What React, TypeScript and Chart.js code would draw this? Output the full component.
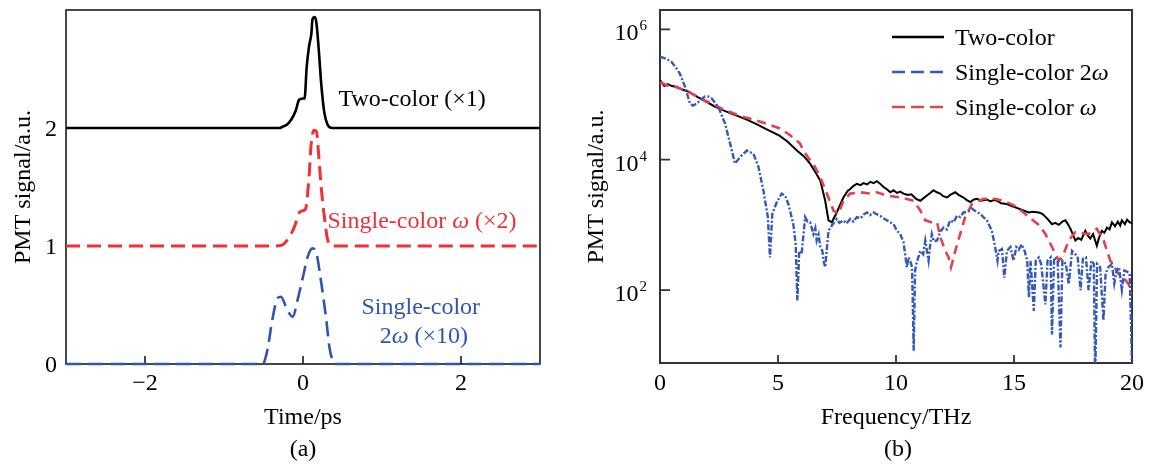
import { useEffect, useRef } from 'react';
import { Chart, registerables } from 'chart.js';

Chart.register(...registerables);

const SERIF = '"Liberation Serif", "Times New Roman", serif';
const W = 1151;
const H = 468;

const BLACK = '#000000';
const RED = '#ec3236';
const BLUE = '#2f55b2';
const RED_B = '#e2424f';
const BLUE_B = '#3458bb';

// ---------- (a) time-domain PMT traces (offset for display) ----------
const timeTicks = [-2, 0, 2];
const timeTickLabels = ['\u22122', '0', '2'];
const offsetTicks = [0, 1, 2];

const twoColorTime = [-3, -0.5, -0.3, -0.26, -0.2, -0.15, -0.09, -0.05, 0.0, 0.02, 0.047, 0.076, 0.106, 0.12, 0.15, 0.17, 0.2, 0.23, 0.27, 0.31, 0.37, 3];
const twoColorTrace = [2, 2, 2.0, 2.01, 2.03, 2.07, 2.15, 2.24, 2.25, 2.25, 2.52, 2.69, 2.8, 2.92, 2.94, 2.89, 2.66, 2.38, 2.13, 2.03, 2.0, 2];

const omegaTime = [-3, -0.37, -0.26, -0.18, -0.11, -0.05, 0.0, 0.03, 0.08, 0.1, 0.14, 0.17, 0.2, 0.23, 0.27, 0.31, 0.37, 3];
const omegaTrace = [1, 1, 1.01, 1.07, 1.16, 1.28, 1.3, 1.31, 1.62, 1.84, 1.98, 1.97, 1.76, 1.5, 1.25, 1.06, 1.0, 1];

const twoOmegaTime = [-3, -0.51, -0.45, -0.39, -0.32, -0.28, -0.2, -0.13, -0.07, 0.0, 0.06, 0.12, 0.17, 0.22, 0.29, 0.34, 0.41, 3];
const twoOmegaTrace = [0, 0, 0.12, 0.37, 0.56, 0.57, 0.46, 0.4, 0.54, 0.74, 0.91, 0.98, 0.94, 0.74, 0.4, 0.12, 0, 0];

// ---------- (b) spectra, stored as log10 of PMT signal ----------
const freqTicks = [0, 5, 10, 15, 20];
const spectrumDecades = [2, 4, 6];

const twoColorFreq = [0, 0.1, 0.18, 0.33, 0.5, 0.68, 1.0, 1.24, 1.6, 1.95, 2.3, 2.66, 3.0, 3.36, 3.7, 4.07, 4.5, 5.06, 5.4, 5.8, 6.1, 6.36, 6.6, 6.79, 7.0, 7.14, 7.28, 7.49, 7.77, 7.95, 8.06, 8.2, 8.34, 8.5, 8.62, 8.78, 8.91, 9.05, 9.19, 9.3, 9.47, 9.6, 9.76, 9.9, 10.04, 10.18, 10.32, 10.5, 10.65, 10.85, 11.03, 11.17, 11.31, 11.45, 11.59, 11.73, 11.87, 12.0, 12.16, 12.3, 12.51, 12.65, 12.86, 13.0, 13.15, 13.3, 13.43, 13.6, 13.85, 14.0, 14.14, 14.28, 14.45, 14.7, 14.9, 15.05, 15.2, 15.4, 15.63, 15.8, 16.05, 16.2, 16.4, 16.61, 16.75, 16.9, 17.05, 17.18, 17.3, 17.39, 17.5, 17.6, 17.72, 17.85, 18.02, 18.12, 18.23, 18.35, 18.51, 18.6, 18.72, 18.83, 18.94, 19.05, 19.15, 19.28, 19.4, 19.5, 19.57, 19.7, 19.79, 19.9, 20.0];
const twoColorLog = [5.22, 5.17, 5.13, 5.16, 5.13, 5.12, 5.07, 5.04, 4.96, 4.89, 4.82, 4.76, 4.71, 4.66, 4.61, 4.55, 4.47, 4.37, 4.28, 4.14, 4.05, 3.94, 3.8, 3.68, 3.37, 3.07, 3.04, 3.19, 3.42, 3.52, 3.55, 3.6, 3.63, 3.61, 3.64, 3.62, 3.66, 3.64, 3.67, 3.64, 3.58, 3.55, 3.5, 3.53, 3.49, 3.51, 3.48, 3.46, 3.47, 3.4, 3.37, 3.41, 3.45, 3.49, 3.53, 3.5, 3.48, 3.44, 3.42, 3.46, 3.5, 3.46, 3.42, 3.38, 3.35, 3.39, 3.4, 3.37, 3.39, 3.36, 3.38, 3.37, 3.33, 3.32, 3.29, 3.27, 3.25, 3.22, 3.19, 3.2, 3.19, 3.17, 3.1, 3.01, 3.03, 3.0, 3.05, 3.07, 3.0, 2.94, 2.85, 2.76, 2.8, 2.77, 2.91, 2.84, 2.79, 2.86, 2.68, 2.8, 2.91, 2.88, 2.96, 2.93, 3.04, 2.98, 3.05, 2.99, 3.07, 3.01, 3.08, 3.04, 3.03];

const omegaFreq = [0, 0.3, 0.7, 1.2, 1.95, 2.7, 3.4, 4.1, 4.6, 5.08, 5.5, 5.93, 6.08, 6.3, 6.5, 6.79, 7.07, 7.35, 7.56, 7.77, 8.06, 8.48, 8.91, 9.19, 9.61, 10.18, 10.75, 11.03, 11.24, 11.5, 11.74, 11.88, 12.09, 12.23, 12.33, 12.51, 12.72, 12.93, 13.22, 13.71, 14.14, 14.56, 14.98, 15.2, 15.63, 16.05, 16.33, 16.61, 16.9, 17.1, 17.32, 17.6, 18.16, 18.51, 18.8, 19.08, 19.43, 19.64, 19.86, 20.0];
const omegaLog = [5.19, 5.14, 5.11, 5.04, 4.9, 4.77, 4.67, 4.6, 4.54, 4.48, 4.38, 4.25, 4.14, 4.02, 3.94, 3.73, 3.48, 3.22, 3.17, 3.37, 3.48, 3.5, 3.48, 3.5, 3.45, 3.42, 3.37, 3.22, 3.07, 3.04, 3.04, 2.81, 2.6, 2.5, 2.35, 2.6, 2.86, 3.12, 3.32, 3.4, 3.4, 3.37, 3.3, 3.25, 3.12, 3.0, 2.86, 2.66, 2.45, 2.55, 2.76, 2.89, 2.86, 2.94, 2.76, 2.45, 2.25, 2.19, 2.09, 1.94];

const twoOmegaFreq = [0, 0.25, 0.49, 0.7, 0.84, 1.06, 1.27, 1.4, 1.55, 1.75, 1.91, 2.05, 2.19, 2.47, 2.76, 2.97, 3.18, 3.39, 3.68, 3.96, 4.17, 4.38, 4.57, 4.66, 4.76, 4.95, 5.16, 5.3, 5.44, 5.65, 5.75, 5.82, 5.9, 6.0, 6.15, 6.25, 6.36, 6.5, 6.58, 6.64, 6.72, 6.79, 6.88, 6.93, 7.0, 7.14, 7.28, 7.4, 7.49, 7.6, 7.77, 7.9, 8.06, 8.2, 8.34, 8.5, 8.63, 8.77, 8.9, 9.05, 9.2, 9.33, 9.47, 9.61, 9.75, 9.9, 10.04, 10.18, 10.32, 10.46, 10.53, 10.6, 10.68, 10.75, 10.81, 10.86, 11.03, 11.15, 11.24, 11.38, 11.45, 11.52, 11.6, 11.74, 11.88, 12.02, 12.15, 12.3, 12.45, 12.58, 12.72, 12.86, 13.05, 13.22, 13.4, 13.57, 13.7, 13.85, 14.06, 14.2, 14.3, 14.35, 14.49, 14.59, 14.7, 14.85, 14.98, 15.1, 15.2, 15.33, 15.45, 15.56, 15.63, 15.7, 15.84, 15.92, 16.05, 16.15, 16.33, 16.42, 16.55, 16.61, 16.7, 16.85, 16.97, 17.05, 17.2, 17.32, 17.46, 17.6, 17.7, 17.82, 17.92, 18.05, 18.16, 18.28, 18.38, 18.44, 18.52, 18.65, 18.79, 18.88, 19.0, 19.15, 19.25, 19.35, 19.45, 19.57, 19.68, 19.8, 19.9, 19.99, 20.0];
const twoOmegaLog = [5.58, 5.55, 5.5, 5.4, 5.32, 5.12, 4.86, 4.83, 4.86, 4.93, 4.97, 4.97, 4.94, 4.81, 4.55, 4.25, 3.94, 4.04, 4.14, 4.09, 3.89, 3.53, 3.12, 2.5, 3.17, 3.35, 3.48, 3.45, 3.32, 3.01, 2.7, 1.84, 2.6, 2.55, 3.12, 3.05, 3.04, 2.86, 2.95, 2.76, 2.85, 2.67, 2.6, 2.45, 2.35, 2.91, 2.99, 3.05, 3.09, 3.03, 3.07, 3.02, 3.09, 3.05, 3.12, 3.1, 3.16, 3.19, 3.15, 3.19, 3.16, 3.14, 3.1, 3.07, 3.04, 3.01, 2.91, 2.86, 2.73, 2.35, 2.5, 2.45, 2.35, 1.07, 2.3, 2.4, 2.6, 2.55, 2.76, 2.45, 2.7, 2.86, 2.75, 2.76, 2.9, 2.96, 2.93, 3.07, 3.04, 3.14, 3.12, 3.19, 3.2, 3.25, 3.2, 3.17, 3.12, 3.07, 2.91, 2.66, 2.45, 2.6, 2.63, 2.19, 2.6, 2.66, 2.45, 2.66, 2.62, 2.7, 2.6, 2.45, 1.89, 2.45, 1.68, 2.45, 2.5, 2.4, 1.78, 2.45, 2.5, 1.32, 2.5, 2.45, 1.12, 2.45, 2.4, 2.09, 2.6, 2.55, 2.5, 2.0, 2.48, 2.5, 2.0, 2.45, 2.4, 0.6, 2.4, 2.35, 1.53, 2.25, 2.35, 2.4, 2.1, 2.3, 2.35, 2.0, 2.3, 2.28, 2.25, 1.02, 0.8];

const toPoints = (xs: number[], ys: number[]) => xs.map((x, i) => ({ x, y: ys[i] }));
const toSpectrum = (xs: number[], logs: number[]) => xs.map((x, i) => ({ x, y: Math.pow(10, logs[i]) }));

function drawFrame(ctx: CanvasRenderingContext2D, area: any, width: number, color: string) {
  ctx.save();
  ctx.strokeStyle = color;
  ctx.lineWidth = width;
  ctx.strokeRect(area.left, area.top, area.right - area.left, area.bottom - area.top);
  ctx.restore();
}

function drawRotatedTitle(ctx: CanvasRenderingContext2D, text: string, x: number, y: number) {
  ctx.save();
  ctx.translate(x, y);
  ctx.rotate(-Math.PI / 2);
  ctx.textAlign = 'center';
  ctx.textBaseline = 'alphabetic';
  ctx.fillText(text, 0, 0);
  ctx.restore();
}

// Draw a run of text pieces; pieces flagged italic use an italic face.
function drawRuns(ctx: CanvasRenderingContext2D, runs: [string, boolean][], x: number, y: number, size: number) {
  let cx = x;
  ctx.textAlign = 'left';
  ctx.textBaseline = 'alphabetic';
  for (const [t, it] of runs) {
    ctx.font = `${it ? 'italic ' : ''}${size}px ${SERIF}`;
    ctx.fillText(t, cx, y);
    cx += ctx.measureText(t).width;
  }
}

const timePanelPlugin = {
  id: 'timePanel',
  beforeDatasetsDraw(chart: any) {
    const { ctx, chartArea: a, scales } = chart;
    drawFrame(ctx, a, 1.6, '#1a1a1a');
    ctx.save();
    ctx.strokeStyle = '#1a1a1a';
    ctx.lineWidth = 1.6;
    ctx.beginPath();
    for (const t of timeTicks) {
      const x = scales.x.getPixelForValue(t);
      ctx.moveTo(x, a.bottom);
      ctx.lineTo(x, a.bottom - 8);
    }
    for (const v of offsetTicks) {
      const y = scales.y.getPixelForValue(v);
      ctx.moveTo(a.left, y);
      ctx.lineTo(a.left + 8, y);
    }
    ctx.stroke();
    ctx.restore();
  },
  afterDraw(chart: any) {
    const { ctx, chartArea: a, scales } = chart;
    ctx.save();
    ctx.fillStyle = '#000';
    ctx.font = `24px ${SERIF}`;
    ctx.textAlign = 'right';
    ctx.textBaseline = 'middle';
    for (const v of offsetTicks) {
      ctx.fillText(String(v), a.left - 9, scales.y.getPixelForValue(v) + 2);
    }
    ctx.textAlign = 'center';
    ctx.textBaseline = 'alphabetic';
    timeTicks.forEach((t, i) => {
      ctx.fillText(timeTickLabels[i], scales.x.getPixelForValue(t), a.bottom + 26);
    });
    const cx = (a.left + a.right) / 2;
    ctx.fillText('Time/ps', cx, 424);
    ctx.fillText('(a)', cx, 456);
    drawRotatedTitle(ctx, 'PMT signal/a.u.', 30, (a.top + a.bottom) / 2);

    const px = (t: number) => scales.x.getPixelForValue(t);
    const py = (v: number) => scales.y.getPixelForValue(v);
    ctx.fillStyle = BLACK;
    drawRuns(ctx, [['Two-color (\u00d71)', false]], px(0.45), py(2.19), 24);
    ctx.fillStyle = RED;
    drawRuns(ctx, [['Single-color ', false], ['\u03c9', true], [' (\u00d72)', false]], px(0.31), py(1.15), 24);
    ctx.fillStyle = BLUE;
    drawRuns(ctx, [['Single-color', false]], px(0.74), py(0.42), 24);
    drawRuns(ctx, [['2', false], ['\u03c9', true], [' (\u00d710)', false]], px(0.97), py(0.18), 24);
    ctx.restore();
  },
};

const legendRows: { label: [string, boolean][]; color: string; dash: number[] }[] = [
  { label: [['Two-color', false]], color: BLACK, dash: [] },
  { label: [['Single-color 2', false], ['\u03c9', true]], color: BLUE_B, dash: [13, 6] },
  { label: [['Single-color ', false], ['\u03c9', true]], color: RED_B, dash: [13, 6] },
];

const spectrumPanelPlugin = {
  id: 'spectrumPanel',
  beforeDatasetsDraw(chart: any) {
    const { ctx, chartArea: a, scales } = chart;
    drawFrame(ctx, a, 2, '#333333');
    ctx.save();
    ctx.strokeStyle = '#333333';
    ctx.lineWidth = 1.8;
    ctx.beginPath();
    for (const f of freqTicks) {
      const x = scales.x.getPixelForValue(f);
      ctx.moveTo(x, a.bottom);
      ctx.lineTo(x, a.bottom - 8);
    }
    for (const d of spectrumDecades) {
      const y = scales.y.getPixelForValue(Math.pow(10, d));
      ctx.moveTo(a.left, y);
      ctx.lineTo(a.left + 10, y);
    }
    ctx.stroke();
    ctx.restore();
  },
  afterDraw(chart: any) {
    const { ctx, chartArea: a, scales } = chart;
    ctx.save();
    ctx.fillStyle = '#000';
    ctx.textBaseline = 'alphabetic';
    // decade labels with superscript exponents
    const rightEdge = a.left - 13;
    for (const d of spectrumDecades) {
      const y = scales.y.getPixelForValue(Math.pow(10, d));
      ctx.font = `15px ${SERIF}`;
      const ew = ctx.measureText(String(d)).width;
      ctx.textAlign = 'left';
      ctx.fillText(String(d), rightEdge - ew, y + 1);
      ctx.font = `24px ${SERIF}`;
      ctx.textAlign = 'right';
      ctx.fillText('10', rightEdge - ew - 1, y + 11);
    }
    ctx.font = `24px ${SERIF}`;
    ctx.textAlign = 'center';
    for (const f of freqTicks) {
      ctx.fillText(String(f), scales.x.getPixelForValue(f), a.bottom + 27);
    }
    const cx = scales.x.getPixelForValue(10);
    ctx.fillText('Frequency/THz', cx, 424);
    ctx.fillText('(b)', cx + 2, 456);
    drawRotatedTitle(ctx, 'PMT signal/a.u.', 603, (a.top + a.bottom) / 2);

    // legend
    legendRows.forEach((row, i) => {
      const base = 45 + i * 35;
      ctx.save();
      ctx.strokeStyle = row.color;
      ctx.lineWidth = 2.6;
      ctx.setLineDash(row.dash);
      ctx.beginPath();
      ctx.moveTo(892, base - 8);
      ctx.lineTo(944, base - 8);
      ctx.stroke();
      ctx.restore();
      ctx.fillStyle = '#000';
      drawRuns(ctx, row.label, 955, base, 24);
    });
    ctx.restore();
  },
};

export default function App() {
  const refA = useRef<HTMLCanvasElement>(null);
  const refB = useRef<HTMLCanvasElement>(null);

  useEffect(() => {
    if (!refA.current || !refB.current) return;
    const common = {
      responsive: false,
      animation: false as const,
      devicePixelRatio: 1,
      events: [] as any[],
    };

    const timeChart = new Chart(refA.current, {
      type: 'line',
      data: {
        datasets: [
          { data: toPoints(twoColorTime, twoColorTrace), borderColor: BLACK, borderWidth: 2.6, pointRadius: 0, cubicInterpolationMode: 'monotone', clip: 4 },
          { data: toPoints(omegaTime, omegaTrace), borderColor: RED, borderWidth: 3, borderDash: [14, 7], pointRadius: 0, cubicInterpolationMode: 'monotone', clip: 4 },
          { data: toPoints(twoOmegaTime, twoOmegaTrace), borderColor: BLUE, borderWidth: 2.6, borderDash: [15, 7], pointRadius: 0, cubicInterpolationMode: 'monotone', clip: 4 },
        ] as any,
      },
      options: {
        ...common,
        layout: { padding: { left: 66, top: 10, right: W - 540, bottom: H - 364 } },
        plugins: { legend: { display: false }, tooltip: { enabled: false } },
        scales: {
          x: { type: 'linear', min: -3, max: 3, display: false },
          y: { type: 'linear', min: 0, max: 3, display: false },
        },
      },
      plugins: [timePanelPlugin],
    });

    const spectrumChart = new Chart(refB.current, {
      type: 'line',
      data: {
        datasets: [
          { data: toSpectrum(twoOmegaFreq, twoOmegaLog), borderColor: BLUE_B, borderWidth: 2.4, borderDash: [6, 2, 2, 2], pointRadius: 0, tension: 0 },
          { data: toSpectrum(omegaFreq, omegaLog), borderColor: RED_B, borderWidth: 2.6, borderDash: [9, 6], pointRadius: 0, tension: 0 },
          { data: toSpectrum(twoColorFreq, twoColorLog), borderColor: BLACK, borderWidth: 2, pointRadius: 0, tension: 0 },
        ] as any,
      },
      options: {
        ...common,
        layout: { padding: { left: 660, top: 10, right: W - 1132, bottom: H - 363 } },
        plugins: { legend: { display: false }, tooltip: { enabled: false } },
        scales: {
          x: { type: 'linear', min: 0, max: 20, display: false },
          y: { type: 'logarithmic', min: 7.6, max: 1.98e6, display: false },
        },
      },
      plugins: [spectrumPanelPlugin],
    });

    return () => {
      timeChart.destroy();
      spectrumChart.destroy();
    };
  }, []);

  return (
    <div style={{ position: 'fixed', left: 0, top: 0, width: W, height: H, background: '#ffffff', overflow: 'hidden' }}>
      <canvas ref={refA} width={W} height={H} style={{ position: 'absolute', left: 0, top: 0 }} />
      <canvas ref={refB} width={W} height={H} style={{ position: 'absolute', left: 0, top: 0 }} />
    </div>
  );
}
